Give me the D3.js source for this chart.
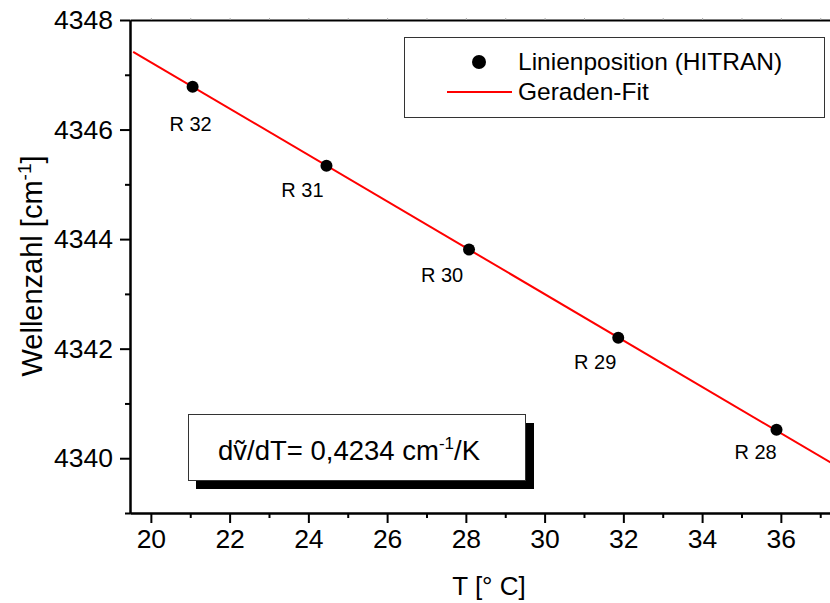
<!DOCTYPE html>
<html lang="en">
	<head>
		<meta charset="utf-8">
		<title>Wellenzahl vs. Temperatur</title>
		<script type="text/javascript" src="https://cdn.jsdelivr.net/npm/d3@7"></script>
		<style type="text/css">
			body { margin: 0; background: #fff; }
			text { font-family: Arial, "Liberation Sans", sans-serif; fill: #000; }
		</style>
	</head>
	<body>
		<script type="text/javascript">

			//Data
			var lineNames = ["R 32", "R 31", "R 30", "R 29", "R 28"];
			var temps = [21.06, 24.46, 28.08, 31.87, 35.89];
			var wavenumbers = [4346.78, 4345.34, 4343.81, 4342.20, 4340.52];

			//Fit line end points
			var fitTemps = [19.55, 38.0];
			var fitWavenumbers = [4347.42, 4339.61];

			var xTicks = [20, 22, 24, 26, 28, 30, 32, 34, 36];
			var xMinor = [21, 23, 25, 27, 29, 31, 33, 35, 37];
			var yTicks = [4340, 4342, 4344, 4346, 4348];
			var yMinor = [4339, 4341, 4343, 4345, 4347];

			var legendLabels = ["Linienposition (HITRAN)", "Geraden-Fit"];

			//label offsets (pixels) relative to each point
			var labelDx = [-2, -24, -27, -23, -21];
			var labelDy = [44, 31, 32, 31, 29];

			//Width and height
			var w = 830;
			var h = 603;

			var svg = d3.select("body")
						.append("svg")
						.attr("width", w)
						.attr("height", h);

			var x = d3.scaleLinear()
					  .domain([19.47, 38])
					  .range([130, 859.6]);

			var y = d3.scaleLinear()
					  .domain([4339, 4348])
					  .range([513, 20]);

			//Fit line
			var fitData = fitTemps.map(function(t, i) { return [t, fitWavenumbers[i]]; });
			var line = d3.line()
						 .x(function(d) { return x(d[0]); })
						 .y(function(d) { return y(d[1]); });

			svg.append("path")
			   .datum(fitData)
			   .attr("d", line)
			   .attr("fill", "none")
			   .attr("stroke", "#ff0000")
			   .attr("stroke-width", 2);

			//Points
			svg.selectAll("circle.pt")
			   .data(temps)
			   .enter()
			   .append("circle")
			   .attr("class", "pt")
			   .attr("cx", function(d) { return x(d); })
			   .attr("cy", function(d, i) { return y(wavenumbers[i]); })
			   .attr("r", 6)
			   .attr("fill", "#000");

			//Point labels
			svg.selectAll("text.lbl")
			   .data(lineNames)
			   .enter()
			   .append("text")
			   .attr("class", "lbl")
			   .text(function(d) { return d; })
			   .attr("x", function(d, i) { return x(temps[i]) + labelDx[i]; })
			   .attr("y", function(d, i) { return y(wavenumbers[i]) + labelDy[i]; })
			   .attr("text-anchor", "middle")
			   .attr("font-size", "20px");

			//Axes
			svg.append("g")
			   .attr("transform", "translate(0,513)")
			   .call(d3.axisBottom(x).tickValues(xTicks).tickSize(10).tickSizeOuter(0).tickPadding(6));
			svg.append("g")
			   .attr("transform", "translate(0,513)")
			   .call(d3.axisBottom(x).tickValues(xMinor).tickSize(5).tickSizeOuter(0).tickFormat(""));

			svg.append("g")
			   .attr("transform", "translate(130,0)")
			   .call(d3.axisLeft(y).tickValues(yTicks).tickFormat(d3.format("d")).tickSize(10).tickSizeOuter(0).tickPadding(7));
			svg.append("g")
			   .attr("transform", "translate(130,0)")
			   .call(d3.axisLeft(y).tickValues(yMinor).tickSize(5).tickSizeOuter(0).tickFormat(""));

			//top frame line with faint ticks
			var topAxis = svg.append("g")
			   .attr("transform", "translate(0,20)")
			   .call(d3.axisTop(x).tickValues(xTicks.concat(xMinor)).tickSize(2).tickSizeOuter(0).tickFormat(""));
			topAxis.selectAll(".tick line").attr("stroke", "#aaa");

			svg.selectAll(".domain").attr("stroke", "#000").attr("stroke-width", 2);
			svg.selectAll(".tick line").filter(function() { return d3.select(this).attr("stroke") !== "#aaa"; })
			   .attr("stroke-width", 2);
			svg.selectAll(".tick text")
			   .attr("font-size", "26.5px")
			   .attr("font-family", "Arial, 'Liberation Sans', sans-serif")
			   .attr("fill", "#000");

			//Axis titles
			svg.append("text")
			   .text("T [° C]")
			   .attr("x", 489)
			   .attr("y", 595)
			   .attr("text-anchor", "middle")
			   .attr("font-size", "26px");

			var yTitle = svg.append("text")
			   .attr("transform", "translate(42,266) rotate(-90)")
			   .attr("text-anchor", "middle")
			   .attr("font-size", "29px");
			yTitle.append("tspan").text("Wellenzahl [cm");
			yTitle.append("tspan").text("-1").attr("font-size", "19px").attr("dy", -11);
			yTitle.append("tspan").text("]").attr("dy", 11);

			//Legend
			var legend = svg.append("g");
			legend.append("rect")
				  .attr("x", 404.5).attr("y", 37.5)
				  .attr("width", 420).attr("height", 80)
				  .attr("fill", "#fff")
				  .attr("stroke", "#333")
				  .attr("stroke-width", 1);
			legend.append("circle")
				  .attr("cx", 479).attr("cy", 62)
				  .attr("r", 7)
				  .attr("fill", "#000");
			legend.append("line")
				  .attr("x1", 447).attr("x2", 512)
				  .attr("y1", 92).attr("y2", 92)
				  .attr("stroke", "#ff0000")
				  .attr("stroke-width", 2);
			legend.selectAll("text")
				  .data(legendLabels)
				  .enter()
				  .append("text")
				  .text(function(d) { return d; })
				  .attr("x", 518)
				  .attr("y", function(d, i) { return 70 + i * 30; })
				  .attr("font-size", "24.5px");

			//Slope annotation box with shadow
			svg.append("rect")
			   .attr("x", 196).attr("y", 423)
			   .attr("width", 338).attr("height", 66)
			   .attr("fill", "#000");
			svg.append("rect")
			   .attr("x", 188.5).attr("y", 414.5)
			   .attr("width", 337).attr("height", 66)
			   .attr("fill", "#fff")
			   .attr("stroke", "#333")
			   .attr("stroke-width", 1);
			var note = svg.append("text")
			   .attr("x", 218)
			   .attr("y", 460)
			   .attr("font-size", "27.5px");
			note.append("tspan").text("dv\u0303/dT= 0,4234 cm");
			note.append("tspan").text("-1").attr("font-size", "17px").attr("dy", -11);
			note.append("tspan").text("/K").attr("dy", 11);

		</script>
	</body>
</html>
